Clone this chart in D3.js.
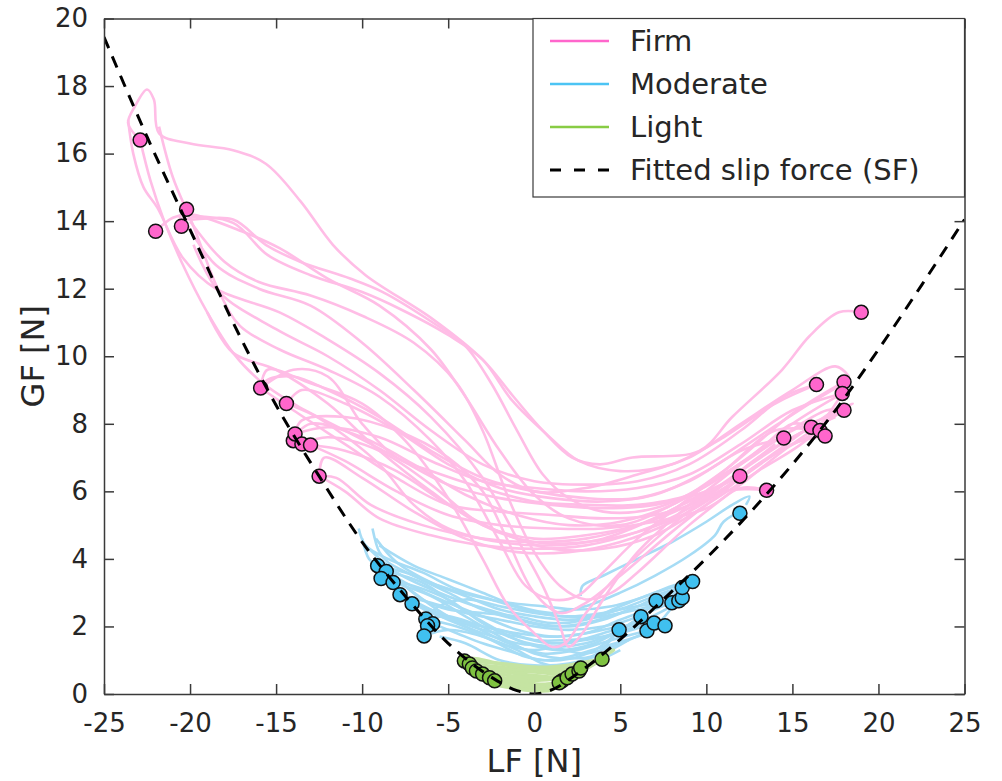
<!DOCTYPE html>
<html>
<head>
<meta charset="utf-8">
<script src="https://cdn.jsdelivr.net/npm/d3@7"></script>
<style>
  body { margin: 0; background: #fff; }
  svg { display: block; }
  text { font-family: "DejaVu Sans", Verdana, sans-serif; fill: #262626; }
</style>
</head>
<body>
<div id="chart"></div>
<script>
// ---- data: [LF, GF] in N ----
const xTicks = [-25, -20, -15, -10, -5, 0, 5, 10, 15, 20, 25]
const yTicks = [0, 2, 4, 6, 8, 10, 12, 14, 16, 18, 20]
const legendLabels = ["Firm", "Moderate", "Light", "Fitted slip force (SF)"]

const slipFit = [[-25,19.45],[-22.5,16.5],[-20,13.75],[-17.5,11.0],[-15,8.55],[-12.5,6.45],[-10,4.5],[-7.5,2.9],[-5,1.5],
  [-2.5,0.5],[-1,0.1],[0,0],[1,0.12],[2.5,0.6],[5,1.62],[7.5,2.8],[10,4.02],[12.5,5.35],[15,6.8],[17.5,8.4],[20,10.2],[22.5,12.1],[25,14.05]]

const firmTraces = [
  [[-22.9,16.4],[-23.6,16.9],[-23.2,17.4],[-22.5,17.9],[-22.1,17.6],[-21.8,16.6],[-20,16.3],[-17.5,16.1],[-15.6,15.7],[-13.6,14.6],[-11.7,13.3],[-9.8,12.4],[-5.9,11.1],[-3,9.9],[-1.2,8.8],[0.5,7.8],[2.2,7.0],[3.8,6.8],[5.7,7.0],[9.6,7.2],[11.5,8.2],[14.4,9.6],[16,10.6],[17.7,11.3],[19,11.3]],
  [[-22.9,16.4],[-22.3,15.2],[-21.5,14],[-20.5,12.8],[-19,11.3],[-17.5,10.1],[-16,9.3],[-14,8.6],[-11,7.8],[-8,7],[-5,6.2],[-2,5.8],[1,5.6],[4,5.5],[7,5.6],[10,6],[12,6.45]],
  [[-23.6,17.0],[-23.3,16.0],[-22.7,15.0],[-21.9,14.4],[-20.4,12.9],[-18.5,12.0],[-14.8,11.3],[-12,10.5],[-9,9.5],[-6,8.2],[-3,6.4],[-1,4.6],[0.5,3.2],[1.5,2.0],[2,1.4],[2.8,1.8],[4,2.8],[6,4.2],[9,5.6],[12,6.8],[15,8.0],[17.9,8.9]],
  [[-20.2,14.35],[-20.6,14.1],[-20,14.05],[-17.5,14.05],[-15.6,13.3],[-13.6,12.8],[-10.7,12.3],[-8.8,11.9],[-5.9,11.0],[-4,10.3],[-2.5,9.2],[-1,7.8],[0.5,6.5],[2,5.8],[4,5.4],[7,5.5],[10,6.2],[13,7.2],[15,8],[16.1,7.9]],
  [[-20.5,13.9],[-20,14.1],[-17.5,13.95],[-15.5,13.0],[-13,12.4],[-10,11.9],[-7.8,11.4],[-4.9,10.6],[-3.0,9.9],[-1.3,8.7],[0.7,7.7],[2.6,6.9],[5,6.6],[8,6.8],[11,7.6],[14,8.6],[16.4,9.16]],
  [[-22,13.7],[-21,14.1],[-20,14.2],[-17,13.7],[-14.8,13.2],[-12,12.3],[-9,11.5],[-6,10.2],[-4,8.8],[-2,7.2],[0,5.9],[2,5.2],[5,5.0],[8,5.6],[11,6.6],[14,7.8],[16.6,7.8]],
  [[-21.8,16.8],[-21,15.3],[-19.8,13.85],[-18.3,11.9],[-17.1,10.9],[-14.8,10.2],[-12,9.6],[-9,8.8],[-6,7.5],[-4,6.3],[-2,4.5],[-0.5,3.2],[1,2.8],[2.5,2.9],[4,3.6],[6,4.6],[9,5.8],[12,7.0],[15,8.3],[18,9.24]],
  [[-15.9,9.06],[-15.5,9.3],[-14,9.4],[-12,9.0],[-9,8.2],[-6,7.2],[-3,6.4],[0,6.0],[3,5.8],[6,5.8],[9,6.3],[12,7.2],[14.5,7.58]],
  [[-14.4,8.6],[-13.5,9.0],[-11,8.6],[-8,7.8],[-5,6.8],[-2,6.1],[1,5.8],[4,5.7],[7,5.9],[10,6.6],[13,7.6],[16,8.6],[18,9.2]],
  [[-14,7.6],[-13,8.0],[-10,7.6],[-7,6.8],[-4,5.9],[-1,5.3],[2,5.0],[5,5.1],[8,5.6],[11,6.5],[14,7.5],[17,8.4],[18,8.4]],
  [[-13.5,7.4],[-12,7.6],[-9,7.2],[-6,6.2],[-3,5.0],[0,4.5],[3,4.5],[6,4.8],[9,5.4],[12,6.4],[15,7.4],[16.9,7.64]],
  [[-13,7.37],[-11,7.2],[-8,6.6],[-5,5.6],[-2,4.8],[1,4.3],[4,4.3],[7,4.7],[10,5.6],[13,6.6],[16,7.6],[17.9,8.9]],
  [[-12.5,6.45],[-12.2,7.0],[-10,6.4],[-7,5.4],[-4,4.6],[-1,4.2],[2,4.2],[5,4.5],[8,5.1],[11,6.0],[13.5,6.03]],
  [[-15.9,9.06],[-15.5,9.6],[-13,9.2],[-10,8.6],[-7.5,7.5],[-5,5.8],[-3,4.0],[-1.5,2.6],[0,1.8],[1.0,1.4],[1.8,1.5],[3,2.4],[5,3.6],[8,5.0],[11,6.2],[13,7.0],[16.1,7.9]],
  [[-14,7.6],[-13.5,8.1],[-11,8.2],[-8,7.8],[-5,7.0],[-3,6.0],[-1.5,4.5],[0,3.0],[1.5,2.4],[3,2.7],[5,3.5],[8,4.8],[11,6.0],[13,6.8],[16.6,7.8]],
  [[-20.3,14.0],[-18.5,12.7],[-16,12],[-13,11.5],[-10,10.4],[-7,9.0],[-4,7.5],[-2,6.5],[0,6.0],[3,6.1],[6,6.5],[9,7.0],[12,8.0],[15,9.0],[17.5,9.7],[18.3,9.4]],
  [[-19.8,13.3],[-18.3,11.9],[-15,10.8],[-12,10.0],[-9,9.0],[-6,7.8],[-3,6.8],[0,6.3],[3,6.2],[6,6.3],[9,6.8],[12,7.8],[14.5,8.8],[16.4,9.16]],
  [[-19,11.3],[-17.5,10.1],[-15,9.6],[-12,8.6],[-9,7.2],[-6,6.0],[-3,5.0],[0,4.6],[3,4.7],[6,5.0],[9,5.6],[12,6.6],[15,7.6],[17.5,8.2]],
  [[-14.4,8.6],[-13,8.3],[-12,8.0],[-9,6.8],[-7,5.6],[-5,4.9],[-2,4.5],[1,4.4],[4,4.6],[7,5.2],[10,6.0],[12,6.45]],
  [[-20,14],[-18,12.8],[-16,12.2],[-13,11.8],[-10,11.2],[-7,10.4],[-4.5,9.2],[-3,7.8],[-1.5,5.8],[0,4.2],[1.5,3.2],[3,2.8],[4.5,3.0],[6,3.6],[9,5.0],[12,6.2],[15,7.4],[18,8.4]],
  [[-15.9,9.06],[-14,9.6],[-12,9.4],[-10,8.0],[-8,7.0],[-6,6.6],[-3,6.1],[0,5.7],[3,5.6],[6,5.6],[9,5.9],[12,6.8],[15,7.8],[17,8.2],[18.5,8.6],[17.5,8.3],[16,7.6]],
  [[-15.9,9.06],[-14,8.4],[-11,7.4],[-8,6.4],[-5,5.6],[-2,5.4],[1,5.3],[4,5.2],[7,5.3],[10,5.8],[13,6.8],[16,7.9],[18,8.6]],
  [[-12.5,6.45],[-11,6.0],[-9,5.2],[-6,4.7],[-3,4.4],[0,4.3],[3,4.4],[6,4.8],[9,5.5],[12,6.6],[14,7.4]],
  [[-12.5,6.45],[-11.5,6.4],[-9.5,5.6],[-6.5,5.0],[-3,4.6],[0,4.5],[3,4.6],[6,5.0],[9,5.7],[11.95,6.45]],
  [[-13,7.37],[-11,6.9],[-8,6.0],[-5,5.3],[-2,5.0],[1,4.9],[4,4.9],[7,5.1],[10,5.5],[12,6.1],[13.5,6.03]],
  [[-13.9,7.7],[-12,7.9],[-9,7.6],[-6,6.9],[-3,6.3],[0,6.1],[3,6.0],[6,6.1],[9,6.5],[12,7.4],[15,8.4],[17.9,8.9]]
]

const moderateTraces = [
  [[-9.4,4.9],[-9.0,4.2],[-8.5,3.9],[-7,3.5],[-5,3.0],[-3,2.5],[-1,2.2],[1,2.0],[3,2.1],[5,2.4],[7,2.8],[8.6,3.15]],
  [[-10,4.6],[-9.6,4.0],[-9.1,3.8],[-7.5,3.3],[-5,2.7],[-3,2.3],[-1,1.9],[1,1.7],[3,1.8],[5,2.2],[7,2.6],[9.2,3.33]],
  [[-8.9,3.42],[-7,3.2],[-5,2.8],[-3,2.1],[-1,1.6],[1,1.4],[3,1.5],[5,1.9],[7,2.5],[8.4,2.76]],
  [[-8.6,3.63],[-6.5,3.3],[-4.5,2.6],[-2.5,2.0],[-0.5,1.5],[1.5,1.3],[3.5,1.5],[5,1.9],[6.2,2.29]],
  [[-8.2,3.3],[-6,2.9],[-4,2.3],[-2,1.7],[0,1.2],[2,1.05],[3.5,1.15],[4.93,1.9]],
  [[-7.8,2.94],[-6,2.7],[-4,2.4],[-2,2.2],[0,2.0],[2,1.9],[4,2.0],[6,2.3],[7.08,2.76]],
  [[-7.1,2.67],[-5.5,2.4],[-3.5,2.0],[-1.5,1.5],[0.5,1.2],[2.5,1.3],[4.5,1.6],[6.55,1.87]],
  [[-6.3,2.22],[-5,2.3],[-3,2.0],[-1,1.8],[1,1.7],[3,1.8],[5,2.0],[6.96,2.1]],
  [[-5.9,2.08],[-4.5,1.8],[-3,1.5],[-1,1.2],[0.5,1.0],[2,1.1],[4,1.4],[6,1.7],[7.6,2.02]],
  [[-6.2,2.02],[-5.8,2.5],[-4,2.8],[-2,2.6],[0,2.4],[2,2.3],[4,2.4],[6,2.6],[8,2.7]],
  [[-6.4,1.72],[-5,1.9],[-3,1.7],[-1,1.3],[0.5,0.9],[2,0.8],[3.5,0.95],[5,1.3]],
  [[-9,4.4],[-7,3.8],[-5,3.4],[-3,3.0],[-1,2.6],[1,2.4],[3,2.6],[5,3.0],[7,3.5],[9,4.1],[10.5,4.7],[11,5.1],[12,5.4],[11.95,5.35]],
  [[2.7,2.9],[2.8,3.2],[4,3.5],[6,4.0],[8,4.5],[10,5.1],[11.5,5.6],[12.5,5.85],[12.3,5.6]],
  [[-9.6,4.3],[-8,3.6],[-6,3.1],[-4,2.7],[-2,2.4],[0,2.1],[2,2.0],[4,2.2],[6,2.6],[8,3.0],[8.6,2.85]],
  [[-8,3.0],[-6,2.5],[-4,2.0],[-2,1.5],[0,1.3],[2,1.5],[4,1.8],[6,2.1],[8,2.6]],
  [[-7,2.7],[-5,2.2],[-3,1.8],[-1,1.5],[1,1.4],[3,1.2],[5,1.5],[7,2.0],[8.2,2.7]],
  [[-5.5,1.7],[-4,1.5],[-2,1.0],[0,0.85],[2,0.9],[4,1.2],[5.5,1.6]],
  [[-9.5,3.9],[-8,3.4],[-6.5,2.8],[-5,2.5],[-3,2.4],[-1,2.3],[1,2.1],[3,2.2],[5,2.6],[7,3.0],[9,3.3]],
  [[-10.2,4.9],[-9.8,4.4],[-8.5,4.0],[-6.5,3.6],[-4.5,3.1],[-2.5,2.8],[-0.5,2.5],[1.5,2.3],[3.5,2.3],[5.5,2.6],[7.5,3.0],[8.6,3.15]],
  [[-9.2,4.6],[-8,3.9],[-6,3.3],[-4,2.9],[-2,2.5],[0,2.3],[2,2.2],[4,2.3],[6,2.5],[8,2.8]],
  [[-8.6,3.63],[-7,3.0],[-5,2.3],[-3,1.9],[-1,1.7],[1,1.5],[3,1.6],[5,1.8],[6.96,2.1]],
  [[-7.8,2.94],[-6,2.4],[-4,2.1],[-2,1.9],[0,1.6],[2,1.6],[4,1.7],[6,2.0],[7.6,2.02]],
  [[-6.3,2.22],[-4.5,2.0],[-2.5,1.6],[-0.5,1.1],[1.5,1.0],[3.5,1.3],[5,1.9]],
  [[-9.1,3.8],[-7.5,3.6],[-5.5,3.2],[-3.5,2.9],[-1.5,2.7],[0.5,2.6],[2.5,2.5],[4.5,2.6],[6.5,2.9],[8,3.2],[9.2,3.33]]
]

const lightTraces = [
  [[-4.06,0.98],[-3.5,0.9],[-2.5,0.75],[-1,0.6],[0,0.55],[1,0.5],[2,0.55],[3,0.75],[3.94,1.03]],
  [[-3.77,0.89],[-3,0.7],[-2,0.5],[-1,0.35],[0,0.3],[1,0.3],[1.62,0.39]],
  [[-3.6,0.77],[-2.8,0.8],[-1.5,0.7],[0,0.65],[1.5,0.6],[2.6,0.68]],
  [[-3.36,0.68],[-2.5,0.55],[-1.5,0.35],[-0.5,0.2],[0.5,0.18],[1.45,0.33]],
  [[-3.0,0.59],[-2,0.45],[-1,0.3],[0,0.25],[1,0.3],[1.91,0.48]],
  [[-2.6,0.48],[-1.5,0.4],[0,0.4],[1.2,0.45],[2.2,0.59]],
  [[-2.3,0.39],[-1.2,0.25],[0,0.15],[1,0.2],[1.62,0.39]],
  [[-4,0.95],[-3,0.85],[-2,0.8],[-1,0.72],[0,0.7],[1,0.68],[2,0.7],[2.7,0.77]],
  [[-3.8,0.85],[-3.2,0.6],[-2.2,0.5],[-1,0.45],[0.2,0.45],[1.4,0.5],[2.6,0.68]],
  [[-4.2,1.0],[-3.5,1.05],[-2.5,0.95],[-1,0.8],[0.5,0.75],[2,0.75],[3.2,0.9],[4.3,1.2],[4.6,1.3],[4.0,1.1]],
  [[-3.3,0.5],[-2.5,0.3],[-1.5,0.2],[-0.5,0.12],[0.5,0.12],[1.5,0.25],[2,0.4]],
  [[-4.1,1.0],[-3,0.95],[-2,0.9],[-1,0.85],[0,0.8],[1,0.8],[2,0.85],[3,0.95],[3.94,1.03]],
  [[-3.6,0.77],[-2.5,0.65],[-1.5,0.55],[-0.5,0.5],[0.5,0.48],[1.5,0.52],[2.2,0.59]],
  [[-2.6,0.48],[-1.8,0.3],[-1,0.18],[0,0.1],[1,0.12],[1.45,0.33]]
]

const firmSlips = [[-22.9,16.4],[-22.0,13.7],[-20.5,13.85],[-20.2,14.35],[-15.9,9.06],[-14.4,8.6],[-14.0,7.5],[-13.9,7.7],
  [-13.5,7.4],[-13.0,7.37],[-12.5,6.45],[11.95,6.45],[13.5,6.03],[14.5,7.58],[16.1,7.9],[16.6,7.8],[16.9,7.64],
  [16.4,9.16],[18.0,9.24],[17.9,8.9],[18.0,8.4],[19.0,11.3]]
const moderateSlips = [[-9.1,3.8],[-8.6,3.63],[-8.9,3.42],[-8.2,3.3],[-7.8,2.94],[-7.1,2.67],[-6.3,2.22],[-5.9,2.08],
  [-6.2,2.02],[-6.4,1.72],[4.93,1.9],[6.2,2.29],[6.55,1.87],[6.96,2.1],[7.6,2.02],[7.08,2.76],[8.0,2.7],[8.4,2.76],
  [8.6,2.85],[8.6,3.15],[9.2,3.33],[11.95,5.35]]
const lightSlips = [[-4.06,0.98],[-3.77,0.89],[-3.6,0.77],[-3.36,0.68],[-3.0,0.59],[-2.6,0.48],[-2.3,0.39],
  [1.62,0.39],[1.45,0.33],[1.91,0.48],[2.2,0.59],[2.6,0.68],[2.7,0.77],[3.94,1.03]]

// ---- drawing ----
const width = 1002
const height = 781
const plotLeft = 104, plotRight = 964.5, plotTop = 18.5, plotBottom = 694

const svg = d3.select("#chart").append("svg")
  .attr("width", width)
  .attr("height", height)

const xScale = d3.scaleLinear().domain([-25, 25]).range([plotLeft, plotRight])
const yScale = d3.scaleLinear().domain([0, 20]).range([plotBottom, plotTop])

svg.append("clipPath").attr("id", "plotclip")
  .append("rect")
  .attr("x", plotLeft).attr("y", plotTop)
  .attr("width", plotRight - plotLeft).attr("height", plotBottom - plotTop)

const plot = svg.append("g").attr("clip-path", "url(#plotclip)")

const traceLine = d3.line()
  .x(d => xScale(d[0]))
  .y(d => yScale(d[1]))
  .curve(d3.curveCatmullRom.alpha(0.5))

const drawTraces = (traces, color, w) => {
  plot.append("g").selectAll("path")
    .data(traces)
    .enter()
    .append("path")
    .attr("d", traceLine)
    .attr("fill", "none")
    .attr("stroke", color)
    .attr("stroke-width", w)
    .attr("stroke-linejoin", "round")
}

drawTraces(moderateTraces, "#a6dcf5", 2.6)
drawTraces(firmTraces, "#ffbde6", 2.6)
drawTraces(lightTraces, "#c5e4a2", 3.6)

const drawSlips = (points, color) => {
  plot.append("g").selectAll("circle")
    .data(points)
    .enter()
    .append("circle")
    .attr("cx", d => xScale(d[0]))
    .attr("cy", d => yScale(d[1]))
    .attr("r", 7)
    .attr("fill", color)
    .attr("stroke", "#111")
    .attr("stroke-width", 1.5)
}

drawSlips(firmSlips, "#ff66cc")
drawSlips(moderateSlips, "#40c0f0")
drawSlips(lightSlips, "#7fc241")

plot.append("path")
  .datum(slipFit)
  .attr("d", d3.line().x(d => xScale(d[0])).y(d => yScale(d[1])).curve(d3.curveMonotoneX))
  .attr("fill", "none")
  .attr("stroke", "#000")
  .attr("stroke-width", 3)
  .attr("stroke-dasharray", "12,9")

// axes (ticks pointing inward, box on)
const axisColor = "#3a3a3a"
const xAxis = d3.axisBottom(xScale).tickValues(xTicks).tickSizeInner(-10).tickSizeOuter(0).tickPadding(20).tickFormat(d => String(d))
const yAxis = d3.axisLeft(yScale).tickValues(yTicks).tickSizeInner(-10).tickSizeOuter(0).tickPadding(16).tickFormat(d => String(d))
const xAxisTop = d3.axisTop(xScale).tickValues(xTicks).tickSizeInner(-10).tickSizeOuter(0).tickFormat("")
const yAxisRight = d3.axisRight(yScale).tickValues(yTicks).tickSizeInner(-10).tickSizeOuter(0).tickFormat("")

const styleAxis = (g) => {
  g.selectAll("path").attr("stroke", axisColor).attr("stroke-width", 1.5)
  g.selectAll("line").attr("stroke", axisColor).attr("stroke-width", 1.5)
  g.selectAll("text").attr("font-size", 26).attr("font-family", "DejaVu Sans, Verdana, sans-serif").attr("fill", "#262626")
}

svg.append("g").attr("transform", `translate(0,${plotBottom})`).call(xAxis).call(styleAxis)
svg.append("g").attr("transform", `translate(${plotLeft},0)`).call(yAxis).call(styleAxis)
svg.append("g").attr("transform", `translate(0,${plotTop})`).call(xAxisTop).call(styleAxis)
svg.append("g").attr("transform", `translate(${plotRight},0)`).call(yAxisRight).call(styleAxis)

svg.append("text")
  .attr("x", (plotLeft + plotRight) / 2)
  .attr("y", 772)
  .attr("text-anchor", "middle")
  .attr("font-size", 32)
  .text("LF [N]")

svg.append("text")
  .attr("transform", `translate(44,${(plotTop + plotBottom) / 2}) rotate(-90)`)
  .attr("text-anchor", "middle")
  .attr("font-size", 32)
  .text("GF [N]")

// legend
const legend = svg.append("g")
legend.append("rect")
  .attr("x", 533).attr("y", plotTop)
  .attr("width", plotRight - 533).attr("height", 197 - plotTop)
  .attr("fill", "#fff")
  .attr("stroke", axisColor)
  .attr("stroke-width", 1.2)

const legendColors = ["#ff66cc", "#4cc4f4", "#88cc44", "#000"]
const legendRows = [41, 84, 127, 170]

legend.selectAll("line")
  .data(legendLabels)
  .enter()
  .append("line")
  .attr("x1", 550).attr("x2", 609)
  .attr("y1", (d, i) => legendRows[i]).attr("y2", (d, i) => legendRows[i])
  .attr("stroke", (d, i) => legendColors[i])
  .attr("stroke-width", (d, i) => i === 3 ? 3 : 2.5)
  .attr("stroke-dasharray", (d, i) => i === 3 ? "11,13" : null)

legend.selectAll("text")
  .data(legendLabels)
  .enter()
  .append("text")
  .attr("x", 630)
  .attr("y", (d, i) => legendRows[i])
  .attr("dy", "0.35em")
  .attr("font-size", 29)
  .attr("fill", "#111")
  .text(d => d)
</script>
</body>
</html>
